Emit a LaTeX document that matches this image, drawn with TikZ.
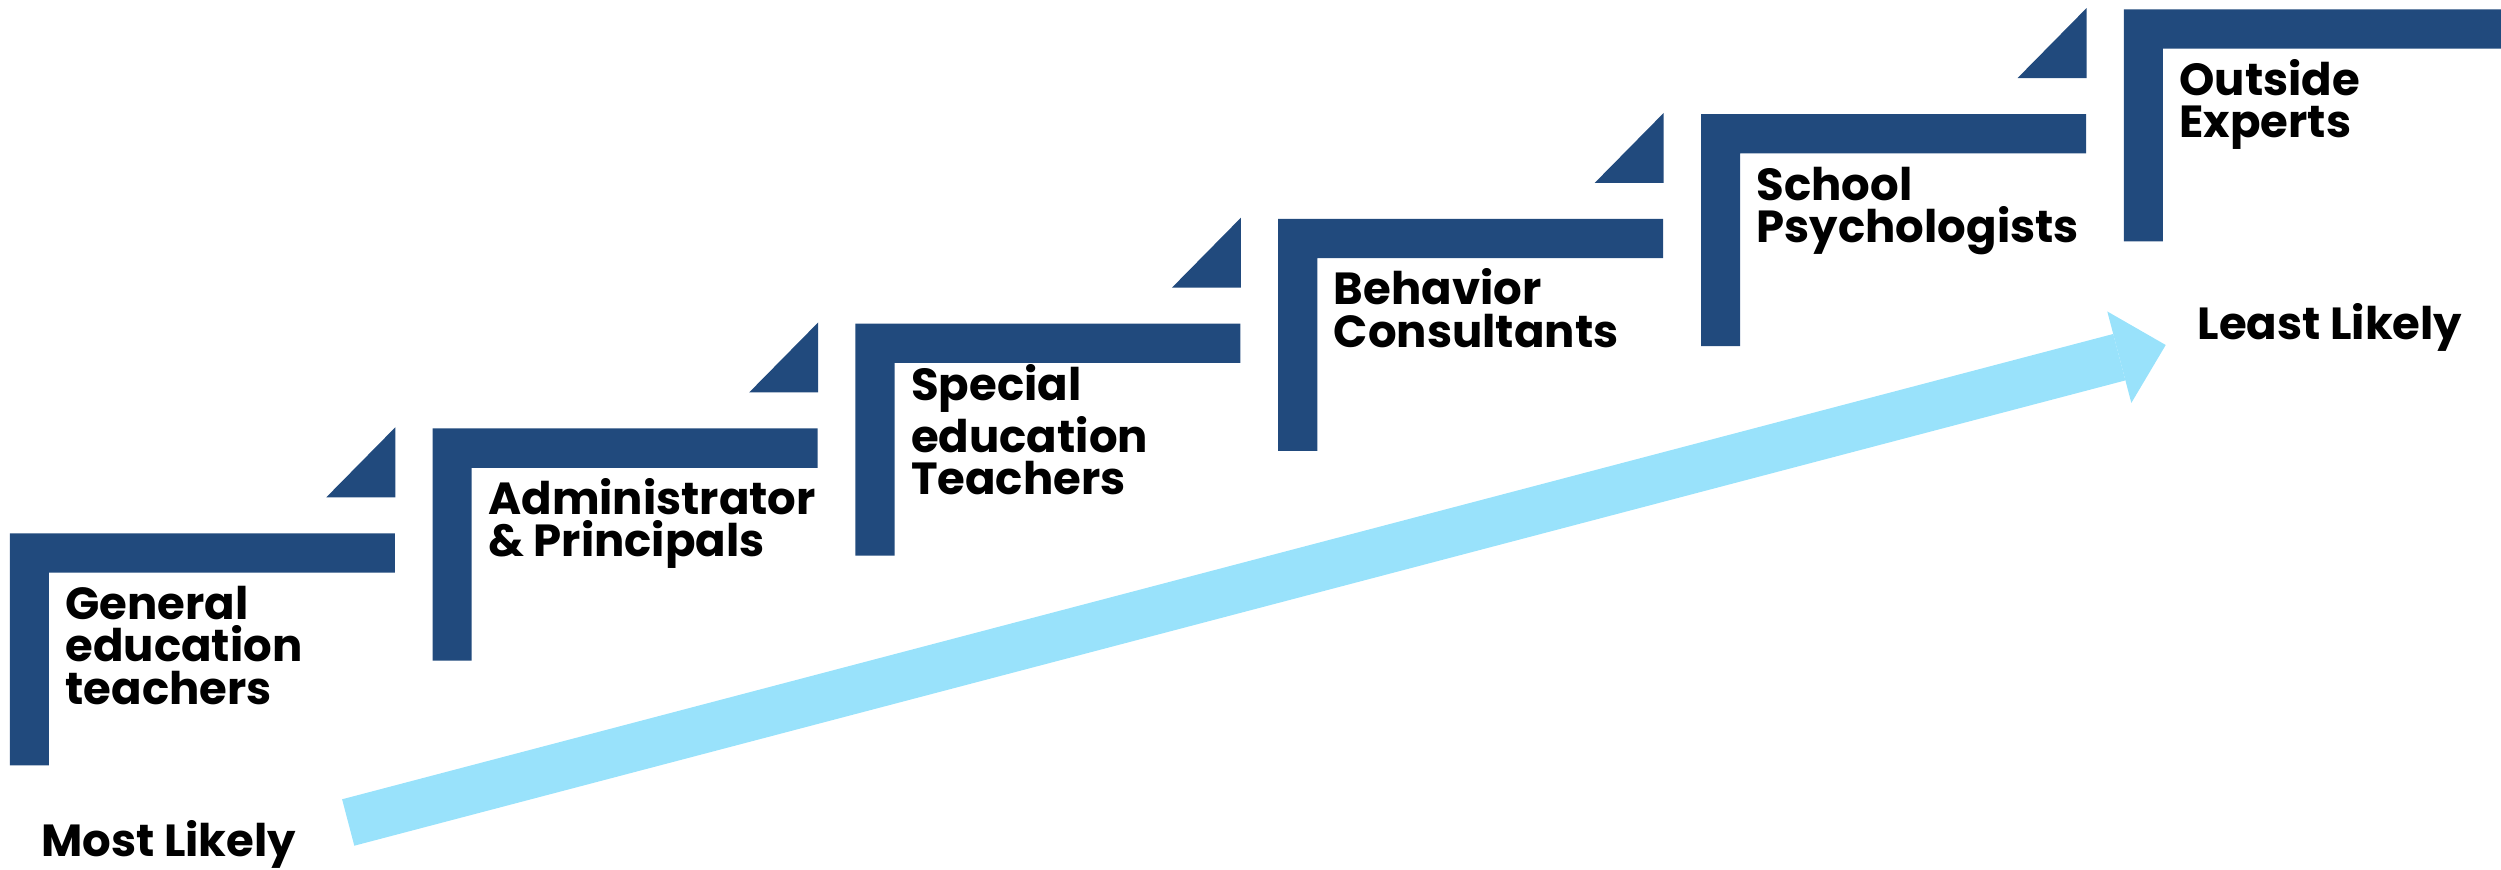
\documentclass[tikz,border=0pt]{standalone}
\usepackage{fontspec}
\setmainfont{Poppins}
\usetikzlibrary{arrows.meta}

\definecolor{stepblue}{RGB}{33,74,125}
\definecolor{arrowblue}{RGB}{153,226,251}

\tikzset{
	stepbar/.style={fill=stepblue},
	steplabel/.style={anchor=base west, align=left, inner sep=0pt, font=\fontsize{12.8}{12.1}\selectfont\bfseries},
	likelyarrow/.style={draw=arrowblue, line width=0.48cm, -{Triangle[length=0.48cm, width=0.946cm, line width=0pt, fill=arrowblue]}}
}

\begin{document}
\begin{tikzpicture}
				\useasboundingbox (0, 0) rectangle (25.01, 8.69);
				% Steps:
				\fill[stepbar] (0.098, 3.357) -- ++(3.85, 0) -- ++(0, -0.393) -- ++(-3.459, 0) -- ++(0, -1.927) -- ++(-0.391, 0) -- cycle;
				\fill[stepbar] (3.263, 3.717) -- ++(0.69, 0) -- ++(0, 0.70) -- cycle;
				\fill[stepbar] (4.326, 4.405) -- ++(3.85, 0) -- ++(0, -0.393) -- ++(-3.459, 0) -- ++(0, -1.927) -- ++(-0.391, 0) -- cycle;
				\fill[stepbar] (7.491, 4.765) -- ++(0.69, 0) -- ++(0, 0.70) -- cycle;
				\fill[stepbar] (8.554, 5.453) -- ++(3.85, 0) -- ++(0, -0.393) -- ++(-3.459, 0) -- ++(0, -1.927) -- ++(-0.391, 0) -- cycle;
				\fill[stepbar] (11.719, 5.813) -- ++(0.69, 0) -- ++(0, 0.70) -- cycle;
				\fill[stepbar] (12.782, 6.501) -- ++(3.85, 0) -- ++(0, -0.393) -- ++(-3.459, 0) -- ++(0, -1.927) -- ++(-0.391, 0) -- cycle;
				\fill[stepbar] (15.947, 6.861) -- ++(0.69, 0) -- ++(0, 0.70) -- cycle;
				\fill[stepbar] (17.010, 7.549) -- ++(3.85, 0) -- ++(0, -0.393) -- ++(-3.459, 0) -- ++(0, -1.927) -- ++(-0.391, 0) -- cycle;
				\fill[stepbar] (20.175, 7.909) -- ++(0.69, 0) -- ++(0, 0.70) -- cycle;
				\fill[stepbar] (21.238, 8.597) -- ++(3.85, 0) -- ++(0, -0.393) -- ++(-3.459, 0) -- ++(0, -1.927) -- ++(-0.391, 0) -- cycle;
				% Labels (placed at the baseline of the last line):
				\node[steplabel] (gened) at (0.648, 1.647) {General\\education\\teachers};
				\node[steplabel] (admin) at (4.876, 3.12) {Administrator\\\& Principals};
				\node[steplabel] (spedu) at (9.104, 3.743) {Special\\education\\Teachers};
				\node[steplabel] (behav) at (13.332, 5.216) {Behavior\\Consultants};
				\node[steplabel] (psych) at (17.560, 6.264) {School\\Psychologists};
				\node[steplabel] (expert) at (21.788, 7.312) {Outside\\Experts};
				\node[steplabel] (mostlikely) at (0.407, 0.13) {Most Likely};
				\node[steplabel] (leastlikely) at (21.97, 5.29) {Least Likely};
				% Arrow:
				\coordinate (arrowtail) at (3.482, 0.465);
				\coordinate (arrowtip) at (21.657, 5.24);
				\draw[likelyarrow] (arrowtail) -- (arrowtip);
			\end{tikzpicture}
\end{document}
